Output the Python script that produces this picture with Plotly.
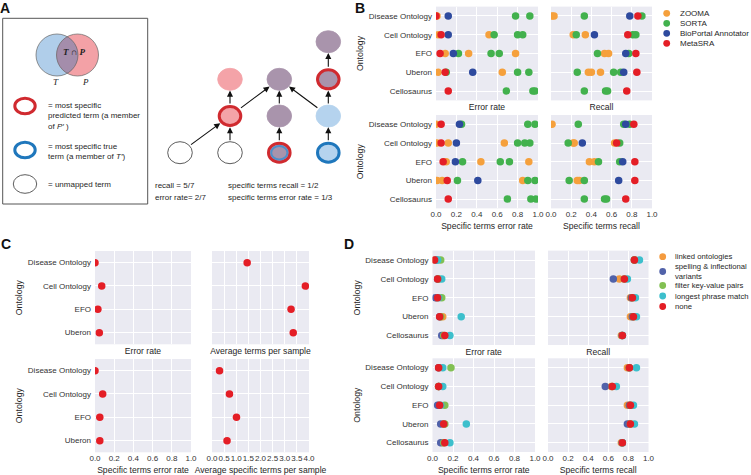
import numpy as np
import plotly.graph_objects as go

W, H = 751, 475
FONT = "Liberation Sans, Arial, sans-serif"
BG = "#EAEAF2"

# ---------------- DATA ----------------
B_ONT = ["Disease Ontology", "Cell Ontology", "EFO", "Uberon", "Cellosaurus"]
B_METHODS = ["ZOOMA", "SORTA", "BioPortal Annotator", "MetaSRA"]
B_COLORS = ["#F5A03C", "#42B14D", "#2E4A9E", "#E41E26"]

# one sub-list per ontology (several runs per method)
B_ERR_ZOOMA = [[0.0, 0.01], [0.02, 0.52], [0.09, 0.32, 0.78], [0.02, 0.65], []]
B_ERR_SORTA = [[0.78, 0.92], [0.57, 0.80, 0.85], [0.22, 0.54, 0.62], [0.10, 0.80, 0.91], [0.69, 0.95, 0.97]]
B_ERR_BIOP = [[0.12], [0.12], [0.17], [0.36], []]
B_ERR_META = [[0.0], [0.05], [0.04], [0.09], [0.12]]

B_REC_ZOOMA = [[0.01, 0.03], [0.22, 0.34], [0.53, 0.57], [0.37, 0.40, 0.49], []]
B_REC_SORTA = [[0.33, 0.90], [0.25, 0.81, 0.84], [0.46, 0.77], [0.26, 0.62, 0.69], [0.33, 0.54, 0.56]]
B_REC_BIOP = [[0.78], [0.43], [0.74], [0.72], []]
B_REC_META = [[0.86], [0.76], [0.84], [0.85], [0.75]]

B_SERR_ZOOMA = [[0.0], [0.01, 0.12, 0.67], [0.10, 0.44, 0.91], [0.01, 0.06, 0.85], []]
B_SERR_SORTA = [[0.25, 0.90, 0.97], [0.80, 0.87, 0.92], [0.26, 0.63, 0.72], [0.21, 0.90, 0.97], [0.70, 0.93, 0.98]]
B_SERR_BIOP = [[0.23], [0.20], [0.19], [0.41], []]
B_SERR_META = [[0.05], [0.05], [0.07], [0.11], [0.12]]

B_SREC_ZOOMA = [[0.01], [0.22, 0.23, 0.63], [0.38, 0.43], [0.26, 0.28], []]
B_SREC_SORTA = [[0.27, 0.72, 0.78], [0.17, 0.68], [0.47, 0.68], [0.18, 0.33], [0.33, 0.53, 0.55]]
B_SREC_BIOP = [[0.74], [0.31], [0.71], [0.67], []]
B_SREC_META = [[0.82], [0.65], [0.83], [0.83], [0.74]]

C_ONT = ["Disease Ontology", "Cell Ontology", "EFO", "Uberon"]
C_ERR = [0.0, 0.07, 0.03, 0.045]
C_AVG_TERMS = [1.45, 3.85, 3.26, 3.35]
C_SPEC_ERR = [0.0, 0.08, 0.05, 0.05]
C_AVG_SPEC_TERMS = [0.31, 0.72, 1.01, 0.62]
C_COLOR = "#E41E26"

D_ONT = ["Disease Ontology", "Cell Ontology", "EFO", "Uberon", "Cellosaurus"]
D_SETTINGS = ["linked ontologies", "spelling & inflectional<br>variants",
              "filter key-value pairs", "longest phrase match", "none"]
D_COLORS = ["#F49B3F", "#5162A9", "#82C052", "#3DBFCC", "#E31E25"]

D_ERR_LINKED = [0.03, 0.05, 0.04, 0.10, 0.10]
D_ERR_SPELL = [0.04, 0.05, 0.03, 0.07, 0.09]
D_ERR_FILTER = [0.08, 0.06, 0.09, 0.08, 0.11]
D_ERR_LONGEST = [0.05, 0.09, 0.06, 0.28, 0.17]
D_ERR_NONE = [0.02, 0.05, 0.05, 0.07, 0.12]

D_REC_LINKED = [0.86, 0.71, 0.82, 0.82, 0.73]
D_REC_SPELL = [0.86, 0.65, 0.83, 0.84, 0.74]
D_REC_FILTER = [0.86, 0.76, 0.84, 0.85, 0.74]
D_REC_LONGEST = [0.91, 0.79, 0.87, 0.88, 0.74]
D_REC_NONE = [0.86, 0.76, 0.84, 0.85, 0.74]

D_SERR_LINKED = [0.06, 0.06, 0.06, 0.11, 0.10]
D_SERR_SPELL = [0.06, 0.06, 0.05, 0.08, 0.08]
D_SERR_FILTER = [0.18, 0.06, 0.12, 0.12, 0.11]
D_SERR_LONGEST = [0.10, 0.10, 0.08, 0.33, 0.17]
D_SERR_NONE = [0.06, 0.06, 0.07, 0.11, 0.12]

D_SREC_LINKED = [0.79, 0.63, 0.79, 0.81, 0.73]
D_SREC_SPELL = [0.81, 0.57, 0.81, 0.79, 0.74]
D_SREC_FILTER = [0.81, 0.64, 0.82, 0.82, 0.74]
D_SREC_LONGEST = [0.88, 0.68, 0.85, 0.86, 0.74]
D_SREC_NONE = [0.81, 0.64, 0.82, 0.82, 0.74]


# ---------------- HELPERS ----------------
def fx(p):
    return p / W


def fy(p):
    return 1 - p / H


fig = go.Figure()
layout = {}


def add_axes(idx, x0, x1, y0, y1, xr, dtick, cats, show_y, show_x, xtitle, ytitle=None):
    xa = "xaxis" if idx == 1 else f"xaxis{idx}"
    ya = "yaxis" if idx == 1 else f"yaxis{idx}"
    tv = list(np.round(np.arange(xr[0], xr[1] + 1e-9, dtick), 2))
    layout[xa] = dict(
        domain=[fx(x0), fx(x1)], anchor=f"y{idx}" if idx > 1 else "y",
        range=xr, tickvals=tv, tickformat=".1f", showticklabels=show_x, tickangle=0,
        showgrid=True, gridcolor="white", gridwidth=1, zeroline=False, showline=False,
        ticks="", ticklen=0, tickfont=dict(size=8, color="#333333", family=FONT),
        title=dict(text=xtitle, font=dict(size=8.6, color="#262626", family=FONT),
                   standoff=4 if show_x else 3.5),
        automargin=False, fixedrange=True,
    )
    layout[ya] = dict(
        domain=[fy(y1), fy(y0)], anchor=f"x{idx}" if idx > 1 else "x",
        type="category", categoryorder="array", categoryarray=cats,
        range=[len(cats) - 0.5, -0.5], showticklabels=show_y,
        showgrid=True, gridcolor="white", gridwidth=1, zeroline=False, showline=False,
        ticks="", ticklen=0, ticklabelstandoff=3, tickfont=dict(size=8, color="#333333", family=FONT),
        automargin=False, fixedrange=True,
    )
    if ytitle:
        layout[ya]["title"] = dict(text=ytitle, font=dict(size=8.8, color="#262626", family=FONT), standoff=3)


def add_points(idx, xs, ys, color):
    fig.add_trace(go.Scatter(
        x=xs, y=ys, mode="markers", xaxis=f"x{idx}" if idx > 1 else "x",
        yaxis=f"y{idx}" if idx > 1 else "y", cliponaxis=True, showlegend=False,
        marker=dict(color=color, size=7.5, line=dict(width=0)), hoverinfo="x+y"))


def flat(groups, cats):
    xs, ys = [], []
    for c, g in zip(cats, groups):
        for v in g:
            xs.append(v)
            ys.append(c)
    return xs, ys


# ---------------- PANEL B ----------------
add_axes(1, 436, 538, 6.6, 100.4, [0, 1], 0.2, B_ONT, True, False, "Error rate", "Ontology")
add_axes(2, 551, 652, 6.6, 100.4, [0, 1], 0.2, B_ONT, False, False, "Recall")
add_axes(3, 436, 538, 115, 208.4, [0, 1], 0.2, B_ONT, True, True, "Specific terms error rate", "Ontology")
add_axes(4, 551, 652, 115, 208.4, [0, 1], 0.2, B_ONT, False, True, "Specific terms recall")

b_sets = {
    1: [B_ERR_ZOOMA, B_ERR_SORTA, B_ERR_BIOP, B_ERR_META],
    2: [B_REC_ZOOMA, B_REC_SORTA, B_REC_BIOP, B_REC_META],
    3: [B_SERR_ZOOMA, B_SERR_SORTA, B_SERR_BIOP, B_SERR_META],
    4: [B_SREC_ZOOMA, B_SREC_SORTA, B_SREC_BIOP, B_SREC_META],
}
for idx, groups in b_sets.items():
    for g, col in zip(groups, B_COLORS):
        xs, ys = flat(g, B_ONT)
        add_points(idx, xs, ys, col)

# ---------------- PANEL C ----------------
add_axes(5, 95, 191, 251, 344.3, [0, 1], 0.2, C_ONT, True, False, "Error rate", "Ontology")
add_axes(6, 212, 309, 251, 344.3, [0, 4], 0.5, C_ONT, False, False, "Average terms per sample")
add_axes(7, 95, 191, 359, 452.3, [0, 1], 0.2, C_ONT, True, True, "Specific terms error rate", "Ontology")
add_axes(8, 212, 309, 359, 452.3, [0, 4], 0.5, C_ONT, False, True, "Average specific terms per sample")
add_points(5, C_ERR, C_ONT, C_COLOR)
add_points(6, C_AVG_TERMS, C_ONT, C_COLOR)
add_points(7, C_SPEC_ERR, C_ONT, C_COLOR)
add_points(8, C_AVG_SPEC_TERMS, C_ONT, C_COLOR)

# ---------------- PANEL D ----------------
add_axes(9, 432.5, 535, 250.6, 345, [0, 1], 0.2, D_ONT, True, False, "Error rate", "Ontology")
add_axes(10, 548, 648.5, 250.6, 345, [0, 1], 0.2, D_ONT, False, False, "Recall")
add_axes(11, 432.5, 535, 358.3, 452, [0, 1], 0.2, D_ONT, True, True, "Specific terms error rate", "Ontology")
add_axes(12, 548, 648.5, 358.3, 452, [0, 1], 0.2, D_ONT, False, True, "Specific terms recall")
d_sets = {
    9: [D_ERR_LINKED, D_ERR_SPELL, D_ERR_FILTER, D_ERR_LONGEST, D_ERR_NONE],
    10: [D_REC_LINKED, D_REC_SPELL, D_REC_FILTER, D_REC_LONGEST, D_REC_NONE],
    11: [D_SERR_LINKED, D_SERR_SPELL, D_SERR_FILTER, D_SERR_LONGEST, D_SERR_NONE],
    12: [D_SREC_LINKED, D_SREC_SPELL, D_SREC_FILTER, D_SREC_LONGEST, D_SREC_NONE],
}
for idx, series in d_sets.items():
    for vals, col in zip(series, D_COLORS):
        add_points(idx, vals, D_ONT, col)

shapes = []
annotations = []


def text(x, y, s, size=8, xanchor="left", yanchor="middle", color="#262626", family=FONT, align="left"):
    annotations.append(dict(x=fx(x), y=fy(y), xref="paper", yref="paper", text=s, showarrow=False,
                            xanchor=xanchor, yanchor=yanchor, align=align, borderpad=0,
                            font=dict(size=size, color=color, family=family)))


def ellipse(cx, cy, rx, ry, fill, lc, lw):
    shapes.append(dict(type="circle", xref="paper", yref="paper", layer="above",
                       x0=fx(cx - rx), x1=fx(cx + rx), y0=fy(cy + ry), y1=fy(cy - ry),
                       fillcolor=fill, line=dict(color=lc, width=lw)))


# ---------------- LEGENDS (manual, compact) ----------------
for i, (name, col) in enumerate(zip(B_METHODS, B_COLORS)):
    yy = 13.3 + i * 10
    ellipse(666.7, yy, 3.4, 3.4, col, col, 0)
    text(679, yy, name, size=8)

d_leg_y = [256.7, 271.5, 285.5, 296, 306.5]
for name, col, yy in zip(D_SETTINGS, D_COLORS, d_leg_y):
    ellipse(662.7, yy, 3.4, 3.4, col, col, 0)
    text(674, yy, name, size=7.7)

# ---------------- PANEL A (diagram) ----------------
PINK, PURPLE, LBLUE = "#F4A3A8", "#A994AC", "#B5D3EE"
RED, BLUE = "#D02A2F", "#1F77BC"

# frame
shapes.append(dict(type="rect", xref="paper", yref="paper", x0=fx(2.7), x1=fx(147.7),
                   y0=fy(204), y1=fy(18.3), line=dict(color="#555555", width=1), fillcolor="rgba(0,0,0,0)"))

# venn
tb, pb, vy, vr = 57.0, 77.5, 55.0, 21.0
ellipse(tb, vy, vr, vr, "#B0CEEA", "#B0CEEA", 0)
ellipse(pb, vy, vr, vr, "#F3A1A6", "#F3A1A6", 0)
dd = pb - tb
hh = np.sqrt(vr ** 2 - (dd / 2) ** 2)
a0 = np.arctan2(-hh, -dd / 2)
ang_r = np.linspace(a0, -2 * np.pi - a0, 40)
a1 = np.arctan2(hh, dd / 2)
ang_b = np.linspace(a1, -a1, 40)
pts = [(pb + vr * np.cos(a), vy + vr * np.sin(a)) for a in ang_r] + \
      [(tb + vr * np.cos(a), vy + vr * np.sin(a)) for a in ang_b]
path = "M " + " L ".join(f"{fx(px):.5f},{fy(py):.5f}" for px, py in pts) + " Z"
shapes.append(dict(type="path", xref="paper", yref="paper", path=path, fillcolor="#A48DAB",
                   line=dict(width=0), layer="above"))
ellipse(tb, vy, vr, vr, "rgba(0,0,0,0)", "#666666", 0.7)
ellipse(pb, vy, vr, vr, "rgba(0,0,0,0)", "#666666", 0.7)
text(74, 52, "<b><i>T</i> ∩ <i>P</i></b>", size=9, xanchor="center", family="Liberation Serif, serif", color="#222")
text(56, 82, "<i>T</i>", size=9, xanchor="center", family="Liberation Serif, serif", color="#222")
text(85, 82, "<i>P</i>", size=9, xanchor="center", family="Liberation Serif, serif", color="#222")

# key
ellipse(25, 106, 10.2, 7.8, "white", RED, 3)
text(46.5, 100, "= most specific<br>predicted term (a member<br>of <i>P′</i> )", size=8, yanchor="top")
ellipse(25, 150, 10.2, 7.8, "white", BLUE, 3)
text(46.5, 141, "= most specific true<br>term (a member of <i>T′</i>)", size=8, yanchor="top")
ellipse(25, 184, 11.7, 9.3, "white", "#333333", 0.8)
text(46.5, 184, "= unmapped term", size=8)

# graph
RX, RY = 12.3, 11.0
NODES = [
    (328.3, 41.7, PURPLE, None),
    (230, 79.3, PINK, None),
    (279.3, 79.3, PURPLE, None),
    (328.3, 79.3, PURPLE, "red"),
    (230, 116, PINK, "red"),
    (279.3, 116, PURPLE, None),
    (328.3, 116, LBLUE, None),
    (180, 152.7, "white", None),
    (230, 152.7, "white", None),
    (279.3, 152.7, PURPLE, "both"),
    (328.3, 152.7, LBLUE, "blue"),
]
EDGES = [(7, 4), (8, 4), (9, 5), (10, 6), (4, 1), (4, 2), (5, 2), (6, 2), (6, 3), (3, 0)]

for cx, cy, fill, ring in NODES:
    if ring is None:
        lc = "#333333" if fill == "white" else fill
        ellipse(cx, cy, RX, RY, fill, lc, 0.8)
    elif ring == "red":
        ellipse(cx, cy, RX - 1.5, RY - 1.5, fill, RED, 3)
    elif ring == "blue":
        ellipse(cx, cy, RX - 1.5, RY - 1.5, fill, BLUE, 3)
    else:
        ellipse(cx, cy, RX - 1.5, RY - 1.5, fill, RED, 3)
        ellipse(cx, cy, RX - 4.2, RY - 4.2, fill, "#4F8FCB", 2)


def edge_r(ux, uy):
    return 1.0 / np.sqrt((ux / RX) ** 2 + (uy / RY) ** 2)


for s, t in EDGES:
    sx, sy = NODES[s][0], NODES[s][1]
    tx, ty = NODES[t][0], NODES[t][1]
    dx, dy = tx - sx, ty - sy
    L = np.hypot(dx, dy)
    ux, uy = dx / L, dy / L
    rr = edge_r(ux, uy)
    hx, hy = tx - ux * (rr + 0.3), ty - uy * (rr + 0.3)
    tlx, tly = sx + ux * rr, sy + uy * rr
    annotations.append(dict(x=fx(hx), y=fy(hy), xref="paper", yref="paper", text="",
                            showarrow=True, axref="pixel", ayref="pixel",
                            ax=tlx - hx, ay=tly - hy, arrowhead=2, arrowsize=1.1,
                            arrowwidth=1.1, arrowcolor="#111111"))

text(154, 185, "recall = 5/7", size=8)
text(154, 197, "error rate= 2/7", size=8)
text(227, 185, "specific terms recall = 1/2", size=8)
text(227, 197, "specific terms error rate = 1/3", size=8)

# panel letters
for letter, x, y in [("A", 5, 7.5), ("B", 359.5, 7.5), ("C", 6.5, 244), ("D", 348.5, 244)]:
    text(x, y, f"<b>{letter}</b>", size=14, xanchor="center", color="#111111")

fig.update_layout(
    width=W, height=H, margin=dict(l=0, r=0, t=0, b=0),
    paper_bgcolor="white", plot_bgcolor=BG, showlegend=False,
    font=dict(family=FONT, size=8, color="#262626"),
    shapes=shapes, annotations=annotations, **layout,
)
# remove the browser's default 8px page margin so the figure fills the window exactly
fig.write_html("out.html", config={"displayModeBar": False},
               post_script="document.body.style.margin='0';document.body.style.overflow='hidden';")
